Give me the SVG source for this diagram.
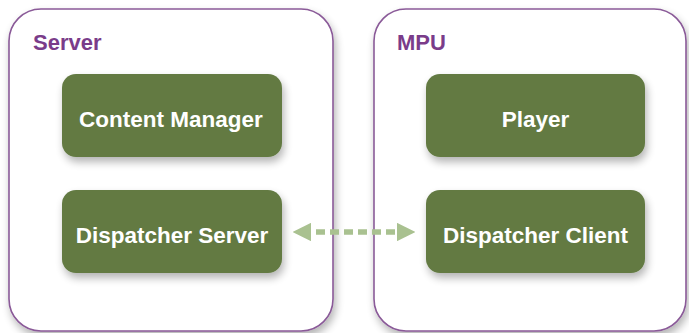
<svg xmlns="http://www.w3.org/2000/svg" width="689" height="333" viewBox="0 0 689 333">
<defs>
<filter id="sh" x="-20%" y="-20%" width="140%" height="150%">
<feGaussianBlur in="SourceAlpha" stdDeviation="4"/>
<feOffset dx="2" dy="5"/>
<feComponentTransfer><feFuncA type="linear" slope="0.3"/></feComponentTransfer>
<feMerge><feMergeNode/><feMergeNode in="SourceGraphic"/></feMerge>
</filter>
<marker id="ah" viewBox="0 0 10 10" refX="5" refY="5" markerWidth="3.4" markerHeight="3.4" orient="auto-start-reverse" markerUnits="strokeWidth">
<path d="M0,0 L10,5 L0,10 z" fill="#a9c190"/>
</marker>
</defs>
<style>
.cont{fill:#fff;stroke:#8a5a98;stroke-width:1.6;filter:url(#sh)}
.node{fill:#637a43;filter:url(#sh)}
.ct{font-family:"Liberation Sans",Arial,sans-serif;font-weight:bold;font-size:22px;fill:#7a3c8a}
.nt{font-family:"Liberation Sans",Arial,sans-serif;font-weight:bold;font-size:22.5px;fill:#fff;text-anchor:middle}
</style>
<rect width="689" height="333" fill="#fff"/>
<g id="server">
<rect class="cont" x="9" y="9" width="324" height="322" rx="32"/>
<text class="ct" x="33" y="50">Server</text>
</g>
<g id="mpu">
<rect class="cont" x="374" y="9" width="312" height="322" rx="32"/>
<text class="ct" x="397" y="50">MPU</text>
</g>
<g id="content-manager">
<rect class="node" x="62" y="74" width="220" height="83" rx="14"/>
<text class="nt" x="171" y="127">Content Manager</text>
</g>
<g id="dispatcher-server">
<rect class="node" x="62" y="190" width="220" height="83" rx="14"/>
<text class="nt" x="172" y="243">Dispatcher Server</text>
</g>
<g id="player">
<rect class="node" x="426" y="74" width="219" height="83" rx="14"/>
<text class="nt" x="535.5" y="127">Player</text>
</g>
<g id="dispatcher-client">
<rect class="node" x="426" y="190" width="219" height="83" rx="14"/>
<text class="nt" x="535.5" y="243">Dispatcher Client</text>
</g>
<g id="connectors">
<line x1="302" y1="232" x2="406" y2="232" stroke="#a9c190" stroke-width="5.5" stroke-dasharray="9,5" marker-start="url(#ah)" marker-end="url(#ah)"/>
</g>
</svg>
